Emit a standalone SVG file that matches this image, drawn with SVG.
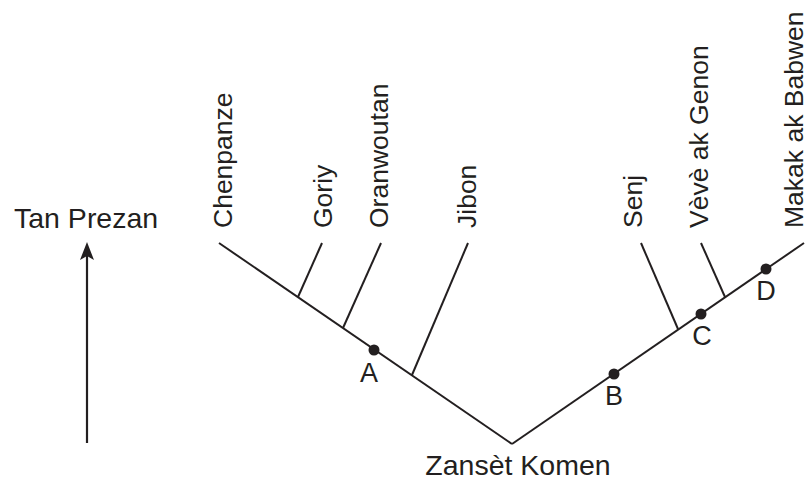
<svg xmlns="http://www.w3.org/2000/svg" width="808" height="481" viewBox="0 0 808 481">
  <style>
    text { font-family: "Liberation Sans", Arial, Helvetica, sans-serif; fill: #231f20; }
    .lbl { font-size: 26.5px; }
    .hlbl { font-size: 28.5px; }
    .pt { font-size: 27px; text-anchor: middle; }
    .edge { stroke: #231f20; stroke-width: 2; fill: none; stroke-linecap: butt; }
    .dot { fill: #231f20; }
  </style>
  <defs>
    <!-- arrowhead drawn along +x, tip at x=18 -->
    <marker id="arrowhead" viewBox="0 0 18 14" refX="8" refY="7" markerWidth="18" markerHeight="14" markerUnits="userSpaceOnUse" orient="auto">
      <path d="M0,0 L18,7 L0,14 L4,7 Z" fill="#231f20"/>
    </marker>
  </defs>

  <!-- time axis -->
  <g id="time-axis">
    <line x1="87" y1="443" x2="87" y2="252" stroke="#231f20" stroke-width="2.2" marker-end="url(#arrowhead)"/>
    <text class="hlbl" x="14" y="228">Tan Prezan</text>
  </g>

  <!-- tree branches -->
  <g id="connectors">
    <line class="edge" x1="219" y1="243" x2="512" y2="444"/>
    <line class="edge" x1="512" y1="444" x2="804" y2="243"/>
    <line class="edge" x1="322" y1="243" x2="298" y2="297"/>
    <line class="edge" x1="381" y1="243" x2="343" y2="328"/>
    <line class="edge" x1="468" y1="243" x2="412" y2="375"/>
    <line class="edge" x1="641" y1="243" x2="678" y2="329"/>
    <line class="edge" x1="701" y1="243" x2="725" y2="297"/>
  </g>

  <!-- taxa -->
  <g id="chenpanze"><text class="lbl" transform="translate(232,228) rotate(-90)">Chenpanze</text></g>
  <g id="goriy"><text class="lbl" transform="translate(332,228) rotate(-90)">Goriy</text></g>
  <g id="oranwoutan"><text class="lbl" transform="translate(388,228) rotate(-90)">Oranwoutan</text></g>
  <g id="jibon"><text class="lbl" transform="translate(476,228) rotate(-90)">Jibon</text></g>
  <g id="senj"><text class="lbl" transform="translate(642,228) rotate(-90)">Senj</text></g>
  <g id="veve-ak-genon"><text class="lbl" transform="translate(708,228) rotate(-90)">Vèvè ak Genon</text></g>
  <g id="makak-ak-babwen"><text class="lbl" transform="translate(803,228) rotate(-90)">Makak ak Babwen</text></g>

  <!-- common ancestor -->
  <g id="zanset-komen"><text class="hlbl" x="518" y="475" text-anchor="middle">Zansèt Komen</text></g>

  <!-- marked points -->
  <g id="point-a"><circle class="dot" cx="374" cy="350" r="5.5"/><text class="pt" x="369" y="382">A</text></g>
  <g id="point-b"><circle class="dot" cx="614" cy="374" r="5.5"/><text class="pt" x="614" y="405">B</text></g>
  <g id="point-c"><circle class="dot" cx="701" cy="314" r="5.5"/><text class="pt" x="702" y="345">C</text></g>
  <g id="point-d"><circle class="dot" cx="766" cy="269" r="5.5"/><text class="pt" x="766" y="300">D</text></g>
</svg>
